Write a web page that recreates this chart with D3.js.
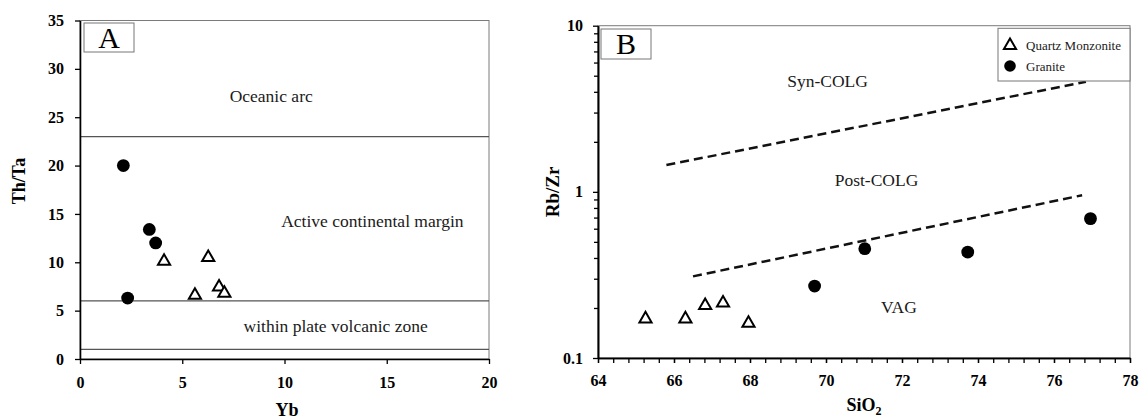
<!DOCTYPE html>
<html><head><meta charset="utf-8">
<script src="https://cdn.jsdelivr.net/npm/d3@7"></script>
<style>body{margin:0;background:#fff}svg{display:block}svg text{font-family:"Liberation Serif","Times New Roman",Times,"DejaVu Serif",serif}</style>
</head><body><svg id="c" width="1143" height="419"></svg>
<script>
// Panel A data
const aGraniteYb = [2.12, 3.39, 3.70, 2.33];
const aGraniteThTa = [20.0, 13.4, 12.0, 6.3];
const aQmYb = [4.11, 6.27, 5.62, 6.80, 7.06];
const aQmThTa = [10.1, 10.5, 6.6, 7.45, 6.8];
const aBoundaries = [23, 6, 1];
const aXTicks = [0, 5, 10, 15, 20];
const aYTicks = [0, 5, 10, 15, 20, 25, 30, 35];
const aFields = [
  {label: "Oceanic arc", x: 9.35, y: 26.6},
  {label: "Active continental margin", x: 14.3, y: 13.6},
  {label: "within plate volcanic zone", x: 12.5, y: 2.8}
];
// Panel B data
const bQmSiO2 = [65.25, 66.3, 66.82, 67.29, 67.96];
const bQmRbZr = [0.172, 0.172, 0.207, 0.214, 0.162];
const bGraniteSiO2 = [69.7, 71.02, 73.73, 76.96];
const bGraniteRbZr = [0.271, 0.455, 0.434, 0.69];
const bUpperLine = [[65.8, 1.45], [76.84, 4.6]];
const bLowerLine = [[66.5, 0.31], [76.74, 0.954]];
const bXTicks = [64, 66, 68, 70, 72, 74, 76, 78];
const bYTicks = [0.1, 1, 10];
const bFields = [
  {label: "Syn-COLG", x: 70.04, y: 4.27},
  {label: "Post-COLG", x: 71.33, y: 1.087},
  {label: "VAG", x: 71.92, y: 0.186}
];

const FONT = '"Liberation Serif","Times New Roman",Times,"DejaVu Serif",serif';
const svg = d3.select("#c");
const tri = d3.symbol(d3.symbolTriangle, 64);

function dots(g, xs, ys, x, y) {
  g.selectAll(null).data(xs).enter().append("circle")
    .attr("cx", (d) => x(d)).attr("cy", (d, i) => y(ys[i])).attr("r", 6.4).attr("fill", "#000");
}
function tris(g, xs, ys, x, y) {
  g.selectAll(null).data(xs).enter().append("path").attr("d", tri)
    .attr("transform", (d, i) => `translate(${x(d)},${y(ys[i])})`)
    .attr("fill", "#fff").attr("stroke", "#000").attr("stroke-width", 2);
}
function styleAxis(g) {
  g.attr("font-family", null).attr("font-size", null);
  g.select(".domain").attr("stroke", "#000").attr("stroke-width", 1.6);
  g.selectAll(".tick line").attr("stroke", "#000").attr("stroke-width", 1.3);
  g.selectAll(".tick text").style("font-family", FONT).style("font-weight", "bold")
    .style("font-size", "16px").attr("fill", "#000");
}
function label(g, txt, size, weight) {
  return g.append("text").style("font-family", FONT).style("font-size", size + "px")
    .style("font-weight", weight || "normal").text(txt);
}

// ---------- Panel A ----------
{
  const x = d3.scaleLinear().domain([0, 20]).range([80, 489]);
  const y = d3.scaleLinear().domain([0, 35]).range([359, 20.5]);
  const g = svg.append("g");
  g.append("rect").attr("x", 80).attr("y", 20.5).attr("width", 409).attr("height", 338.5)
    .attr("fill", "none").attr("stroke", "#7a7a7a").attr("stroke-width", 1);
  g.selectAll(null).data(aBoundaries).enter().append("line")
    .attr("x1", x(0)).attr("x2", x(20)).attr("y1", (d) => y(d)).attr("y2", (d) => y(d))
    .attr("stroke", "#555").attr("stroke-width", 1.2);
  aFields.forEach((f) => {
    label(g, f.label, 17.5).attr("x", x(f.x)).attr("y", y(f.y)).attr("text-anchor", "middle").attr("fill", "#1a1a1a");
  });
  const gx = g.append("g").attr("transform", `translate(0,${y(0)})`)
    .call(d3.axisBottom(x).tickValues(aXTicks).tickSize(5).tickSizeOuter(0).tickPadding(13));
  styleAxis(gx);
  const gy = g.append("g").attr("transform", `translate(${x(0)},0)`)
    .call(d3.axisLeft(y).tickValues(aYTicks).tickSize(5).tickSizeOuter(0).tickPadding(11));
  styleAxis(gy);
  g.append("rect").attr("x", 84).attr("y", 23).attr("width", 50).attr("height", 29)
    .attr("fill", "#fff").attr("stroke", "#777").attr("stroke-width", 1);
  label(g, "A", 30).attr("x", 109).attr("y", 48).attr("text-anchor", "middle");
  dots(g, aGraniteYb, aGraniteThTa, x, y);
  tris(g, aQmYb, aQmThTa, x, y);
  label(g, "Th/Ta", 18, "bold").attr("transform", "translate(25,181) rotate(-90)").attr("text-anchor", "middle");
  label(g, "Yb", 18, "bold").attr("x", 287).attr("y", 416).attr("text-anchor", "middle");
}

// ---------- Panel B ----------
{
  const x = d3.scaleLinear().domain([64, 78]).range([598, 1130]);
  const y = d3.scaleLog().domain([0.1, 10]).range([358, 25.7]);
  const g = svg.append("g");
  g.append("rect").attr("x", 598).attr("y", 25.7).attr("width", 532).attr("height", 332.3)
    .attr("fill", "none").attr("stroke", "#7a7a7a").attr("stroke-width", 1);
  const line = d3.line().x((d) => x(d[0])).y((d) => y(d[1]));
  [bUpperLine, bLowerLine].forEach((l) => {
    g.append("path").attr("d", line(l)).attr("fill", "none").attr("stroke", "#111")
      .attr("stroke-width", 2.5).attr("stroke-dasharray", "9,5");
  });
  bFields.forEach((f) => {
    label(g, f.label, 17.5).attr("x", x(f.x)).attr("y", y(f.y)).attr("text-anchor", "middle").attr("fill", "#1a1a1a");
  });
  const minorX = d3.range(0, 36).map((i) => 64 + i * 0.4);
  const gxm = g.append("g").attr("transform", `translate(0,${y(0.1)})`)
    .call(d3.axisBottom(x).tickValues(minorX).tickSize(5).tickFormat("").tickSizeOuter(0));
  styleAxis(gxm);
  const gx = g.append("g").attr("transform", `translate(0,${y(0.1)})`)
    .call(d3.axisBottom(x).tickValues(bXTicks).tickSize(5).tickSizeOuter(0).tickPadding(12));
  styleAxis(gx);
  const minorY = [];
  [0.1, 1].forEach((b) => { for (let k = 2; k <= 9; k++) minorY.push(b * k); });
  const gym = g.append("g").attr("transform", `translate(${x(64)},0)`)
    .call(d3.axisLeft(y).tickValues(minorY).tickSize(4).tickFormat("").tickSizeOuter(0));
  styleAxis(gym);
  const gy = g.append("g").attr("transform", `translate(${x(64)},0)`)
    .call(d3.axisLeft(y).tickValues(bYTicks).tickSize(5).tickSizeOuter(0).tickPadding(10)
      .tickFormat((d) => String(d)));
  styleAxis(gy);
  g.append("rect").attr("x", 601).attr("y", 29).attr("width", 50).attr("height", 30)
    .attr("fill", "#fff").attr("stroke", "#777").attr("stroke-width", 1);
  label(g, "B", 30).attr("x", 626).attr("y", 54).attr("text-anchor", "middle");
  dots(g, bGraniteSiO2, bGraniteRbZr, x, y);
  tris(g, bQmSiO2, bQmRbZr, x, y);
  // legend
  const lg = g.append("g");
  lg.append("rect").attr("x", 998).attr("y", 28.3).attr("width", 132).attr("height", 52.7)
    .attr("fill", "#fff").attr("stroke", "#777").attr("stroke-width", 1);
  lg.append("path").attr("d", tri).attr("transform", "translate(1010,45.5)")
    .attr("fill", "#fff").attr("stroke", "#000").attr("stroke-width", 2);
  lg.append("circle").attr("cx", 1010).attr("cy", 66).attr("r", 5.8).attr("fill", "#000");
  label(lg, "Quartz Monzonite", 13).attr("x", 1026).attr("y", 50).attr("fill", "#1a1a1a");
  label(lg, "Granite", 13).attr("x", 1026).attr("y", 70.5).attr("fill", "#1a1a1a");
  label(g, "Rb/Zr", 19, "bold").attr("transform", "translate(559,192) rotate(-90)").attr("text-anchor", "middle");
  const t = label(g, "", 18, "bold").attr("x", 864).attr("y", 411).attr("text-anchor", "middle");
  t.append("tspan").text("SiO");
  t.append("tspan").style("font-size", "12px").attr("dy", 4).text("2");
}
</script></body></html>
